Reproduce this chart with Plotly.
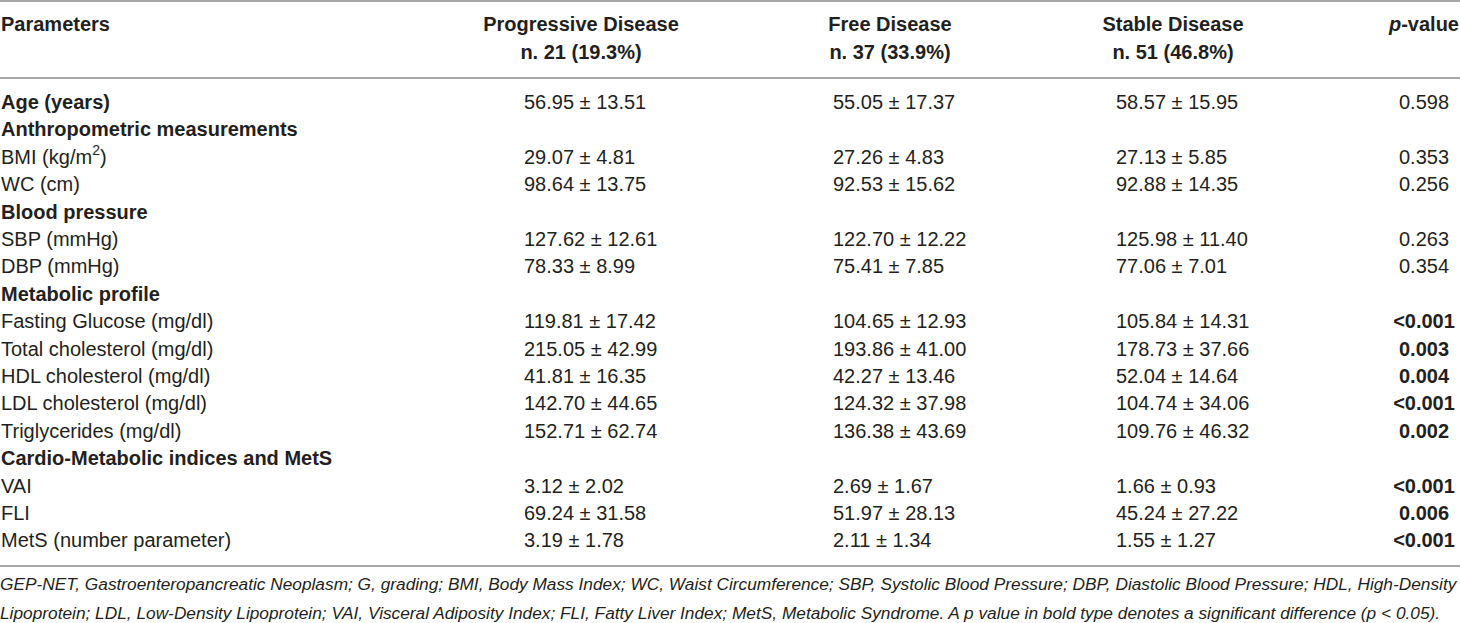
import plotly.graph_objects as go

# table content
params = [
    "Age (years)",
    "Anthropometric measurements",
    "BMI (kg/m<sup>2</sup>)",
    "WC (cm)",
    "Blood pressure",
    "SBP (mmHg)",
    "DBP (mmHg)",
    "Metabolic profile",
    "Fasting Glucose (mg/dl)",
    "Total cholesterol (mg/dl)",
    "HDL cholesterol (mg/dl)",
    "LDL cholesterol (mg/dl)",
    "Triglycerides (mg/dl)",
    "Cardio-Metabolic indices and MetS",
    "VAI",
    "FLI",
    "MetS (number parameter)",
]
bold_label = [True, True, False, False, True, False, False, True,
              False, False, False, False, False, True, False, False, False]

groups = ["Progressive Disease", "Free Disease", "Stable Disease"]
group_n = ["n. 21 (19.3%)", "n. 37 (33.9%)", "n. 51 (46.8%)"]

# None = section row without values
prog_mean = [56.95, None, 29.07, 98.64, None, 127.62, 78.33, None,
             119.81, 215.05, 41.81, 142.70, 152.71, None, 3.12, 69.24, 3.19]
prog_sd = [13.51, None, 4.81, 13.75, None, 12.61, 8.99, None,
           17.42, 42.99, 16.35, 44.65, 62.74, None, 2.02, 31.58, 1.78]
free_mean = [55.05, None, 27.26, 92.53, None, 122.70, 75.41, None,
             104.65, 193.86, 42.27, 124.32, 136.38, None, 2.69, 51.97, 2.11]
free_sd = [17.37, None, 4.83, 15.62, None, 12.22, 7.85, None,
           12.93, 41.00, 13.46, 37.98, 43.69, None, 1.67, 28.13, 1.34]
stable_mean = [58.57, None, 27.13, 92.88, None, 125.98, 77.06, None,
               105.84, 178.73, 52.04, 104.74, 109.76, None, 1.66, 45.24, 1.55]
stable_sd = [15.95, None, 5.85, 14.35, None, 11.40, 7.01, None,
             14.31, 37.66, 14.64, 34.06, 46.32, None, 0.93, 27.22, 1.27]
p_values = ["0.598", None, "0.353", "0.256", None, "0.263", "0.354", None,
            "<0.001", "0.003", "0.004", "<0.001", "0.002", None,
            "<0.001", "0.006", "<0.001"]
significant = [False, None, False, False, None, False, False, None,
               True, True, True, True, True, None, True, True, True]

footnote = [
    "GEP-NET, Gastroenteropancreatic Neoplasm; G, grading; BMI, Body Mass Index; WC, Waist Circumference; "
    "SBP, Systolic Blood Pressure; DBP, Diastolic Blood Pressure; HDL, High-Density",
    "Lipoprotein; LDL, Low-Density Lipoprotein; VAI, Visceral Adiposity Index; FLI, Fatty Liver Index; "
    "MetS, Metabolic Syndrome. A p value in bold type denotes a significant difference (p < 0.05).",
]

W, H = 1460, 623
FONT = "Liberation Sans, Arial, Helvetica, sans-serif"
INK = "#231f20"
RULE = "#a6a6a6"

row0, pitch = 104, 27.4
rows_y = [row0 + i * pitch for i in range(len(params))]
data_rows = [i for i, m in enumerate(prog_mean) if m is not None]


def fmt(m, s):
    return "%.2f \u00b1 %.2f" % (m, s)


def text_trace(x, y, text, pos, size=20):
    return go.Scatter(x=x, y=y, text=text, mode="text", textposition=pos,
                      textfont=dict(family=FONT, size=size, color=INK),
                      cliponaxis=False, hoverinfo="skip", showlegend=False)


fig = go.Figure()

# header
fig.add_trace(text_trace([1], [26], ["<b>Parameters</b>"], "middle right"))
head_x = [581, 890, 1173]
fig.add_trace(text_trace(head_x, [26] * 3, ["<b>%s</b>" % g for g in groups], "middle center"))
fig.add_trace(text_trace(head_x, [54] * 3, ["<b>%s</b>" % n for n in group_n], "middle center"))
fig.add_trace(text_trace([1459], [26], ["<b><i>p</i>-value</b>"], "middle left"))

# parameter column
fig.add_trace(text_trace([1] * len(params), rows_y,
                         ["<b>%s</b>" % p if b else p for p, b in zip(params, bold_label)],
                         "middle right"))

# group columns
value_x = [524, 833, 1116]
for x0, means, sds in zip(value_x, [prog_mean, free_mean, stable_mean],
                          [prog_sd, free_sd, stable_sd]):
    fig.add_trace(text_trace([x0] * len(data_rows), [rows_y[i] for i in data_rows],
                             [fmt(means[i], sds[i]) for i in data_rows], "middle right"))

# p-values
p_text = ["<b>%s</b>" % p_values[i] if significant[i] else p_values[i] for i in data_rows]
fig.add_trace(text_trace([1424] * len(data_rows), [rows_y[i] for i in data_rows],
                         p_text, "middle center"))

# footnote
fig.add_trace(text_trace([0, 0], [586, 615], ["<i>%s</i>" % f for f in footnote],
                         "middle right", size=17.3))

rules = [1, 78, 566]
for ry in rules:
    fig.add_shape(type="line", x0=0, x1=W, y0=ry, y1=ry,
                  line=dict(color=RULE, width=2), layer="below")

fig.update_xaxes(range=[0, W], visible=False, fixedrange=True)
fig.update_yaxes(range=[H, 0], visible=False, fixedrange=True)
fig.update_layout(width=W, height=H, margin=dict(l=0, r=0, t=0, b=0),
                  plot_bgcolor="white", paper_bgcolor="white")

fig.write_html("out.html", config={"displayModeBar": False},
               post_script="document.body.style.margin='0';document.body.style.overflow='hidden';")
